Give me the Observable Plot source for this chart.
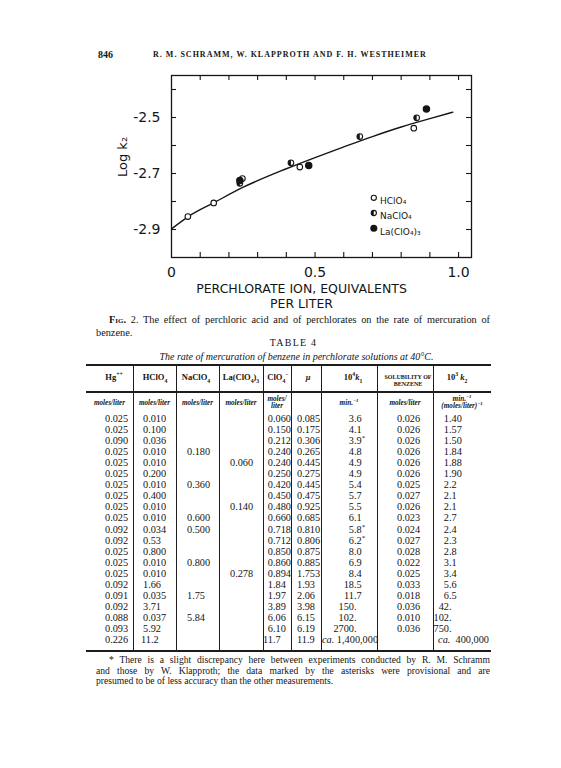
<!DOCTYPE html>
<html><head><meta charset="utf-8">
<script src="https://cdn.jsdelivr.net/npm/d3@7"></script>
<script src="https://cdn.jsdelivr.net/npm/@observablehq/plot@0.6"></script>
<style>
html,body{margin:0;padding:0;background:#fff;}
#page{position:relative;width:561px;height:768px;overflow:hidden;font-family:"Liberation Serif","DejaVu Serif",serif;color:#141414;}
#page div.t{position:absolute;white-space:nowrap;}
#chart{position:absolute;left:0;top:62px;}
sub,sup{font-size:68%;line-height:0;}
.rule{position:absolute;background:#1c1c1c;}
</style></head>
<body><div id="page"><div id="chart"></div></div>
<script>
// ---------- chart data ----------
const hclo4X = [0.057, 0.147, 0.247, 0.447, 0.844];
const hclo4Y = [-2.854, -2.805, -2.718, -2.677, -2.538];
const naclo4X = [0.238, 0.416, 0.656, 0.854];
const naclo4Y = [-2.735, -2.662, -2.568, -2.501];
const laX = [0.238, 0.478, 0.888];
const laY = [-2.725, -2.671, -2.470];
const curveX = [0, 0.06, 0.15, 0.25, 0.40, 0.50, 0.60, 0.70, 0.80, 0.90, 0.98];
const curveY = [-2.898, -2.853, -2.803, -2.749, -2.683, -2.643, -2.605, -2.568, -2.534, -2.504, -2.481];
const xDomain = [0, 1.045];
const yDomain = [-3.0, -2.35];
const xTickValues = [0, 0.5, 1.0];
const xTickText = ["0", "0.5", "1.0"];
const yTickValues = [-2.5, -2.7, -2.9];
const xMinorTicks = [0.1, 0.2, 0.3, 0.4, 0.5, 0.6, 0.7, 0.8, 0.9, 1.0];
const yMinorTicks = [-2.4, -2.5, -2.6, -2.7, -2.8, -2.9];
const legendLabels = ["HClO₄", "NaClO₄", "La(ClO₄)₃"];
const xTitle = "PERCHLORATE ION, EQUIVALENTS\nPER LITER";
const yTitle = "Log k₂";

// ---------- table data ----------
const colHg = ["0.025","0.025","0.090","0.025","0.025","0.025","0.025","0.025","0.025","0.025","0.092","0.092","0.025","0.025","0.025","0.092","0.091","0.092","0.088","0.093","0.226"];
const colHClO4 = ["0.010","0.100","0.036","0.010","0.010","0.200","0.010","0.400","0.010","0.010","0.034","0.53","0.800","0.010","0.010","1.66","0.035","3.71","0.037","5.92","11.2"];
const colNaClO4 = ["","","","0.180","","","0.360","","","0.600","0.500","","","0.800","","","1.75","","5.84","",""];
const colLa = ["","","","","0.060","","","","0.140","","","","","","0.278","","","","","",""];
const colClO4 = ["0.060","0.150","0.212","0.240","0.240","0.250","0.420","0.450","0.480","0.660","0.718","0.712","0.850","0.860","0.894","1.84","1.97","3.89","6.06","6.10","11.7"];
const colMu = ["0.085","0.175","0.306","0.265","0.445","0.275","0.445","0.475","0.925","0.685","0.810","0.806","0.875","0.885","1.753","1.93","2.06","3.98","6.15","6.19","11.9"];
const colK1 = ["3.6","4.1","3.9*","4.8","4.9","4.9","5.4","5.7","5.5","6.1","5.8*","6.2*","8.0","6.9","8.4","18.5","11.7","150.","102.","2700.","ca. 1,400,000"];
const colSol = ["0.026","0.026","0.026","0.026","0.026","0.026","0.025","0.027","0.026","0.023","0.024","0.027","0.028","0.022","0.025","0.033","0.018","0.036","0.010","0.036",""];
const colK2 = ["1.40","1.57","1.50","1.84","1.88","1.90","2.2","2.1","2.1","2.7","2.4","2.3","2.8","3.1","3.4","5.6","6.5","42.","102.","750.","ca. 400,000"];
const headers = ["Hg<sup>++</sup>","HClO<sub>4</sub>","NaClO<sub>4</sub>","La(ClO<sub>4</sub>)<sub>3</sub>","ClO<sub>4</sub><sup>−</sup>","<i>μ</i>","10<sup>4</sup><i>k</i><sub>1</sub>","SOLUBILITY OF<br>BENZENE","10<sup>3</sup> <i>k</i><sub>2</sub>"];
const units = ["moles/liter","moles/liter","moles/liter","moles/liter","moles/<br>liter","","min.<sup>−1</sup>","moles/liter","min.<sup>−1</sup><br>(moles/liter)<sup>−1</sup>"];

// ---------- chart ----------
const pts = (xs, ys) => xs.map((x, i) => ({x, y: ys[i]}));
const frameW = 300, frameH = 182;
const halfLeft = {draw(ctx, size) { const r = Math.sqrt(size / Math.PI); ctx.moveTo(0, -r); ctx.arc(0, 0, r, -Math.PI / 2, Math.PI / 2, true); ctx.closePath(); }};
const ink = "#151515";
const legendMarks = legendLabels.flatMap((label, i) => {
  const dy = 122.3 + i * 15.2;
  const m = [];
  if (i === 2) m.push(Plot.dot([label], {frameAnchor: "top-left", dx: 202.3, dy, r: 2.8, fill: ink, stroke: ink}));
  else m.push(Plot.dot([label], {frameAnchor: "top-left", dx: 202.3, dy, r: 2.6, fill: "white", stroke: ink, strokeWidth: 1.1}));
  if (i === 1) m.push(Plot.dot([label], {frameAnchor: "top-left", dx: 202.3, dy, r: 2.6, symbol: halfLeft, fill: ink}));
  m.push(Plot.text([label], {frameAnchor: "top-left", dx: 208.5, dy, text: d => d, textAnchor: "start", fontSize: 9, fill: ink}));
  return m;
});

const chart = Plot.plot({
  width: 561, height: 258,
  marginLeft: 171, marginRight: 90, marginTop: 13, marginBottom: 63,
  x: {domain: xDomain},
  y: {domain: yDomain},
  style: {background: "transparent", fontFamily: "'DejaVu Sans', sans-serif", fontSize: "14px", color: ink, overflow: "visible"},
  marks: [
    Plot.frame({stroke: ink, strokeWidth: 1.3}),
    Plot.ruleX(xMinorTicks, {insetTop: frameH - 5, stroke: ink, strokeWidth: 1.1}),
    Plot.ruleX(xMinorTicks, {insetBottom: frameH - 5, stroke: ink, strokeWidth: 1.1}),
    Plot.ruleY(yMinorTicks, {insetRight: frameW - 5, stroke: ink, strokeWidth: 1.1}),
    Plot.ruleY(yMinorTicks, {insetLeft: frameW - 5, stroke: ink, strokeWidth: 1.1}),
    Plot.axisX({ticks: xTickValues, tickSize: 0, tickPadding: 10, tickFormat: d => xTickText[xTickValues.indexOf(d)], label: null, fontSize: 14}),
    Plot.axisY({ticks: yTickValues, tickSize: 0, tickPadding: 11, tickFormat: d => d.toFixed(1), label: null, fontSize: 14}),
    Plot.text([xTitle], {frameAnchor: "bottom", dx: -20, dy: 50, text: d => d, fontSize: 12.5, lineHeight: 1.2, ariaLabel: "x-title"}),
    Plot.text([yTitle], {frameAnchor: "left", dx: -49, dy: 10.5, rotate: -90, text: d => d, fontSize: 13}),
    Plot.line(pts(curveX, curveY), {x: "x", y: "y", curve: "monotone-x", stroke: ink, strokeWidth: 1.4}),
    Plot.dot(pts(hclo4X, hclo4Y), {x: "x", y: "y", r: 2.8, fill: "white", stroke: ink, strokeWidth: 1.1}),
    Plot.dot(pts(naclo4X, naclo4Y), {x: "x", y: "y", r: 2.8, fill: "white", stroke: ink, strokeWidth: 1.1}),
    Plot.dot(pts(naclo4X, naclo4Y), {x: "x", y: "y", r: 2.8, symbol: halfLeft, fill: ink}),
    Plot.dot(pts(laX, laY), {x: "x", y: "y", r: 3, fill: ink, stroke: ink}),
    ...legendMarks
  ]
});
d3.select(chart).selectAll('g[aria-label="x-title"] text').attr("letter-spacing", "1.8px");
document.getElementById("chart").appendChild(chart);

// ---------- page text ----------
const page = document.getElementById("page");
function put(html, {left, cy, size = 10, lh, align = "left", width = 0, style = ""}) {
  const d = document.createElement("div");
  d.className = "t";
  const h = lh || Math.round(size * 1.2);
  d.style.cssText = style;
  d.style.top = (cy - h / 2) + "px";
  d.style.lineHeight = h + "px";
  d.style.height = h + "px";
  d.style.fontSize = size + "px";
  if (align === "center") { d.style.left = (left - width / 2) + "px"; d.style.width = width + "px"; d.style.textAlign = "center"; }
  else if (align === "right") { d.style.left = (left - width) + "px"; d.style.width = width + "px"; d.style.textAlign = "right"; }
  else d.style.left = left + "px";
  d.innerHTML = html;
  page.appendChild(d);
  return d;
}
function justify(html, left, width, cy, size, style = "") {
  const d = put(html, {left, cy, size, style});
  d.style.display = "inline-block";
  const natural = d.getBoundingClientRect().width;
  const spaces = (d.textContent.match(/ /g) || []).length;
  if (spaces) d.style.wordSpacing = ((width - natural) / spaces) + "px";
  return d;
}
function rule(x, y, w, h) {
  const r = document.createElement("div");
  r.className = "rule";
  r.style.left = x + "px"; r.style.top = y + "px"; r.style.width = w + "px"; r.style.height = h + "px";
  page.appendChild(r);
}
function decimal(str, decX, cy, size) {
  const k = str.indexOf(".");
  const ip = k < 0 ? str : str.slice(0, k);
  const fp = k < 0 ? "" : str.slice(k);
  const fmt = s => s.replace("*", "<sup>*</sup>");
  put(ip, {left: decX, cy, size, align: "right", width: 30});
  put(fmt(fp), {left: decX, cy, size});
}

put("846", {left: 98, cy: 55, size: 10, style: "font-weight:bold;"});
put("R. M. SCHRAMM, W. KLAPPROTH AND F. H. WESTHEIMER", {left: 290, cy: 55, size: 8, align: "center", width: 400, style: "font-weight:bold;letter-spacing:1px;"});

justify('<span style="font-variant:small-caps;font-weight:bold;">Fig.</span> 2. The effect of perchloric acid and of perchlorates on the rate of mercuration of', 109, 381, 320, 10.3);
put("benzene.", {left: 96, cy: 333, size: 10.3});
put("TABLE 4", {left: 293.5, cy: 342.5, size: 10, align: "center", width: 120, style: "letter-spacing:1.2px;"});
put("The rate of mercuration of benzene in perchlorate solutions at 40°C.", {left: 296.5, cy: 357, size: 10, align: "center", width: 360, style: "font-style:italic;"});

// table frame
const colBounds = [86, 133, 176, 219, 263, 291, 321, 377, 433, 491];
const headCenters = [114, 155, 196, 241, 278, 308, 353, 408, 457];
rule(86, 364, 405, 2);
rule(86, 391, 405, 1.6);
rule(86, 650, 405, 2);
for (let i = 1; i < colBounds.length - 1; i++) rule(colBounds[i] - 0.4, 365, 0.9, 285);

headers.forEach((h, i) => {
  if (i === 7) put(h, {left: headCenters[i], cy: 377, size: 6, lh: 7, align: "center", width: 56, style: "font-weight:bold;line-height:7px;height:14px;top:370px;"});
  else put(h, {left: headCenters[i], cy: 377, size: 8.5, align: "center", width: 56, style: "font-weight:bold;"});
});
units.forEach((u, i) => {
  const two = u.includes("<br>");
  const cx = i === 8 ? 462 : (colBounds[i] + colBounds[i + 1]) / 2;
  const d = put(u, {left: cx, cy: 403, size: 7.2, align: "center", width: 58, style: "font-style:italic;font-weight:bold;"});
  if (two) { d.style.lineHeight = "6.5px"; d.style.height = "13px"; d.style.top = "396px"; }
});

const rowY = i => 419 + i * 11.05;
const S = 10.3;
colHg.forEach((v, i) => put(v, {left: 105, cy: rowY(i), size: S}));
colHClO4.forEach((v, i) => put(v, {left: v.length === 4 && v[2] === "." ? 141 : 143, cy: rowY(i), size: S}));
colNaClO4.forEach((v, i) => v && put(v, {left: 187, cy: rowY(i), size: S}));
colLa.forEach((v, i) => v && put(v, {left: 230, cy: rowY(i), size: S}));
colClO4.forEach((v, i) => decimal(v, 273, rowY(i), S));
colMu.forEach((v, i) => put(v, {left: 297, cy: rowY(i), size: S}));
colK1.forEach((v, i) => {
  if (v.startsWith("ca.")) put("<i>ca.</i> " + v.slice(4), {left: 322, cy: rowY(i), size: S});
  else decimal(v, 354, rowY(i), S);
});
colSol.forEach((v, i) => v && put(v, {left: 397, cy: rowY(i), size: S}));
colK2.forEach((v, i) => {
  if (v.startsWith("ca.")) put("<i>ca.</i>&nbsp;&nbsp;" + v.slice(4), {left: 489, cy: rowY(i), size: S, align: "right", width: 60});
  else decimal(v, 449, rowY(i), S);
});

justify("* There is a slight discrepancy here between experiments conducted by R. M. Schramm", 109, 381, 660, 9.6);
justify("and those by W. Klapproth; the data marked by the asterisks were provisional and are", 96, 394, 670.7, 9.6);
put("presumed to be of less accuracy than the other measurements.", {left: 96, cy: 681.3, size: 9.6});
</script></body></html>
